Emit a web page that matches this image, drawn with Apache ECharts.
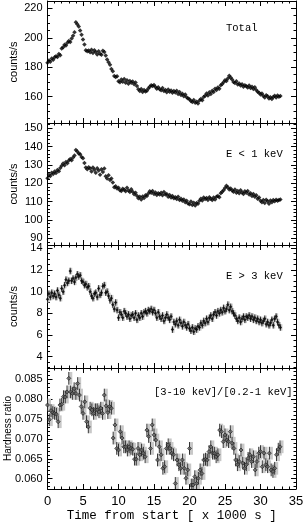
<!DOCTYPE html>
<html><head><meta charset="utf-8">
<script src="https://cdn.jsdelivr.net/npm/echarts@6/dist/echarts.min.js"></script>
<style>html,body{margin:0;padding:0;background:#fff}#c{width:306px;height:522px}</style>
</head><body><div id="c"></div>
<script>
// ---- data (time in units of 1000 s) ----
const binRate = 0.2;   // ks per bin, count-rate light curves
const binHR = 0.25;    // ks per bin, hardness ratio

const totalRate = [
183.0,184.5,183.8,185.9,185.0,186.8,187.5,186.9,189.0,188.2,
192.8,193.6,195.2,194.8,196.6,197.8,197.2,199.6,201.4,203.8,
210.5,209.2,207.6,205.0,202.1,198.8,195.5,191.6,190.8,191.4,
190.2,191.8,189.6,191.5,190.4,188.6,190.8,189.2,188.4,191.2,
190.4,188.0,185.2,183.4,181.6,178.8,177.2,174.0,173.4,173.8,
170.5,169.8,171.6,170.2,172.0,169.4,171.2,168.8,170.6,169.5,
170.3,168.4,169.6,167.2,165.0,163.8,165.2,163.2,164.6,163.5,
164.0,165.6,166.8,167.8,167.2,168.0,166.6,165.4,166.4,165.0,
164.4,165.8,163.8,164.6,163.0,164.8,163.4,164.2,162.6,163.8,
162.8,164.0,161.8,163.2,161.2,162.0,160.2,161.4,159.6,158.8,
158.2,157.0,156.4,157.8,155.8,156.6,155.4,157.4,158.4,157.6,
159.8,160.6,162.2,160.8,163.0,161.8,164.0,163.2,165.4,164.6,
166.2,165.4,167.8,168.6,169.8,171.2,170.6,172.4,174.2,173.0,
171.6,170.0,169.2,170.4,168.2,169.0,167.6,168.4,166.8,167.8,
167.0,166.2,167.6,165.8,166.8,165.2,166.4,164.6,163.4,162.6,
161.4,162.2,160.4,159.4,161.0,160.2,158.8,159.6,158.4,159.8,
160.6,159.4,160.8,160.0,160.4];

const softRate = [
122.8,124.6,123.9,125.8,125.0,126.4,125.6,127.2,126.6,128.4,
129.6,130.8,129.9,131.6,130.9,132.4,133.2,132.6,134.0,135.2,
138.2,137.4,136.2,135.8,134.4,133.6,131.0,128.6,127.6,128.8,
128.0,126.4,128.6,127.4,125.8,128.2,127.0,124.6,127.6,126.2,
128.0,123.8,122.6,124.4,121.8,122.6,120.4,117.8,118.4,117.2,
117.6,116.2,115.8,117.0,116.4,115.6,117.6,116.0,115.2,116.8,
115.4,114.0,114.8,113.2,111.8,112.6,111.2,112.8,112.0,113.4,
113.0,114.4,115.6,114.8,115.8,114.2,115.0,113.6,114.6,113.8,
114.8,113.4,115.2,113.8,114.2,112.6,113.6,112.2,113.0,111.8,
112.4,111.4,112.6,110.8,111.6,110.4,111.2,109.6,110.4,109.0,
108.6,110.0,108.2,109.4,107.8,109.2,108.8,110.4,111.6,110.6,
112.2,111.4,112.0,110.8,112.4,111.6,110.8,112.2,111.2,112.6,
113.0,112.4,114.6,115.4,116.2,117.4,118.6,117.8,116.6,117.2,
116.0,115.4,116.6,114.8,115.8,114.6,116.2,115.0,114.2,115.6,
114.8,115.8,113.8,114.6,113.0,114.2,112.6,113.4,111.6,112.2,
110.4,109.6,110.8,109.2,111.0,110.2,108.8,110.6,109.6,110.8,
110.2,111.0,110.4,110.8,111.2];

const hardRate = [
9.3,9.8,9.5,9.9,9.6,9.8,9.5,10.1,9.7,9.4,
10.3,10.0,10.6,11.1,10.8,11.0,11.9,11.0,11.2,10.9,
11.3,11.6,11.4,11.5,11.0,10.9,10.6,10.7,10.4,10.5,
10.0,9.6,9.4,9.8,9.9,9.5,10.3,9.7,9.9,10.5,
10.6,9.9,10.0,9.6,9.2,9.4,8.8,8.4,9.0,8.3,
7.6,8.1,7.9,7.6,8.2,8.0,7.7,7.9,7.5,7.8,
7.9,7.6,8.0,7.4,7.8,7.6,8.0,7.7,8.1,8.2,
8.0,8.3,8.2,8.4,8.1,8.3,8.0,7.6,8.1,7.7,
7.5,7.8,7.3,7.6,7.9,7.6,7.4,7.7,6.5,7.2,
7.0,7.3,6.9,7.4,7.1,6.8,7.2,6.9,6.7,7.0,
6.6,6.4,6.7,6.3,6.6,6.5,6.8,6.7,7.1,6.9,
7.3,7.1,7.5,7.2,7.6,7.8,7.5,7.9,8.1,7.8,
8.2,8.0,8.3,8.1,8.5,8.2,8.4,8.8,8.3,8.6,
8.2,8.0,7.8,7.5,7.3,7.6,7.2,7.5,7.7,7.4,
7.7,7.6,7.8,7.5,7.7,7.4,7.6,7.3,7.5,7.2,
7.4,7.1,7.3,7.5,7.0,7.2,6.9,7.1,7.4,6.9,
7.5,7.7,7.2,6.9,6.7];
const hardRateErr = 0.3;

const hardness = [
0.0785,0.0748,0.0771,0.0766,0.0764,0.0762,0.0743,0.0785,0.0787,0.0806,
0.0805,0.0818,0.0852,0.0818,0.0814,0.0826,0.0814,0.0839,0.0810,0.0781,
0.0764,0.0793,0.0743,0.0730,0.0777,0.0773,0.0764,0.0773,0.0773,0.0768,
0.0777,0.0764,0.0810,0.0783,0.0766,0.0781,0.0777,0.0702,0.0735,0.0676,
0.0672,0.0718,0.0702,0.0680,0.0680,0.0672,0.0680,0.0676,0.0674,0.0649,
0.0649,0.0676,0.0660,0.0672,0.0664,0.0655,0.0722,0.0706,0.0676,0.0735,
0.0710,0.0697,0.0647,0.0680,0.0660,0.0626,0.0630,0.0676,0.0685,0.0676,
0.0664,0.0660,0.0588,0.0647,0.0635,0.0626,0.0647,0.0626,0.0601,0.0622,
0.0676,0.0584,0.0584,0.0605,0.0588,0.0601,0.0622,0.0613,0.0647,0.0649,
0.0647,0.0668,0.0680,0.0664,0.0664,0.0655,0.0660,0.0722,0.0718,0.0693,
0.0710,0.0697,0.0693,0.0718,0.0689,0.0676,0.0647,0.0635,0.0643,0.0672,
0.0639,0.0626,0.0635,0.0651,0.0660,0.0643,0.0655,0.0622,0.0643,0.0664,
0.0668,0.0630,0.0664,0.0635,0.0630,0.0664,0.0622,0.0618,0.0626,0.0660,
0.0674,0.0680];
const hardnessErr = 0.0016;

const panelLabels = ['Total', 'E < 1 keV', 'E > 3 keV', '[3-10 keV]/[0.2-1 keV]'];
const yTitles = ['counts/s', 'counts/s', 'counts/s', 'Hardness ratio'];
const xTitle = 'Time from start [ x 1000 s ]';
const xRange = [0, 35];
const xMajorStep = 5;
const xTickLabels = [0, 5, 10, 15, 20, 25, 30, 35];
const yRanges = [[142.1, 225], [86.3, 152.9], [2.96, 14.3], [0.0574, 0.0878]];
const yMajorTicks = [
  [160, 180, 200, 220],
  [90, 100, 110, 120, 130, 140, 150],
  [4, 6, 8, 10, 12, 14],
  [0.060, 0.065, 0.070, 0.075, 0.080, 0.085]
];
const yMinorStep = [5, 2, 0.5, 0.001];
const yLabelDecimals = [0, 0, 0, 3];

// ---- build ----
const bins = (arr, w) => arr.map((v, i) => [+(i * w).toFixed(3), v]);
function minorTicks(range, step, majors) {
  const out = [];
  const k0 = Math.ceil(range[0] / step - 1e-9), k1 = Math.floor(range[1] / step + 1e-9);
  for (let k = k0; k <= k1; k++) {
    const v = +(k * step).toFixed(6);
    if (!majors.some(m => Math.abs(m - v) < step * 1e-3)) out.push(v);
  }
  return out;
}

const gridBase = {left: 47.5, right: 10, outerBoundsMode: 'none'};
const grids = [
  Object.assign({top: 1, height: 122}, gridBase),
  Object.assign({top: 123, height: 122}, gridBase),
  Object.assign({top: 245, height: 123}, gridBase),
  Object.assign({top: 368, height: 121}, gridBase),
  Object.assign({top: 488, height: 1}, gridBase)   // carries the bottom tick labels only
];
const yNameGap = [28, 28, 28, 34];
const yNameSize = [11, 11, 11, 10];
const black = '#000';
const xAxes = [], yAxes = [];
for (let g = 0; g < 4; g++) {
  ['bottom', 'top'].forEach(pos => {
    const hasName = (g === 3 && pos === 'bottom');
    xAxes.push({
      gridIndex: g, type: 'value', position: pos, min: xRange[0], max: xRange[1], interval: xMajorStep,
      axisLine: {show: true, onZero: false, lineStyle: {color: black, width: 1}},
      axisTick: {show: true, inside: true, length: 5, lineStyle: {color: black, width: 1}},
      minorTick: {show: true, splitNumber: 5, length: 2.5, lineStyle: {color: black, width: 1}},
      splitLine: {show: false}, minorSplitLine: {show: false},
      axisLabel: {show: false},
      name: hasName ? xTitle : '', nameLocation: 'middle', nameGap: 20, nameMoveOverlap: false,
      nameTextStyle: {fontFamily: 'Liberation Mono', fontSize: 12.5, color: black}
    });
  });
  const majors = yMajorTicks[g];
  const minors = minorTicks(yRanges[g], yMinorStep[g], majors);
  ['left', 'right'].forEach(pos => {
    const isLeft = pos === 'left';
    yAxes.push({
      gridIndex: g, type: 'value', position: pos, min: yRanges[g][0], max: yRanges[g][1],
      axisLine: {show: true, onZero: false, lineStyle: {color: black, width: 1}},
      axisTick: {show: true, inside: true, length: 5, customValues: majors, lineStyle: {color: black, width: 1}},
      splitLine: {show: false},
      axisLabel: {show: isLeft, customValues: majors, showMinLabel: true, showMaxLabel: true, margin: 5,
        fontFamily: 'Liberation Sans', fontSize: 11, color: black,
        formatter: v => Number(v).toFixed(yLabelDecimals[g])},
      name: isLeft ? yTitles[g] : '', nameLocation: 'middle', nameGap: yNameGap[g], nameMoveOverlap: false,
      nameTextStyle: {fontFamily: 'Liberation Sans', fontSize: yNameSize[g], color: black}
    });
    yAxes.push({
      gridIndex: g, type: 'value', position: pos, min: yRanges[g][0], max: yRanges[g][1],
      axisLine: {show: false, onZero: false},
      axisTick: {show: true, inside: true, length: 2.5, customValues: minors, lineStyle: {color: black, width: 1}},
      splitLine: {show: false}, axisLabel: {show: false}
    });
  });
}
// tick-label axis under the bottom panel (x index 8 / y index 16); the extent is padded by a
// negligible 1e-4 ks so that the last label (35) is an interior label and is not auto-hidden
xAxes.push({
  gridIndex: 4, type: 'value', position: 'bottom', min: xRange[0], max: xRange[1] + 1e-4,
  axisLine: {show: false, onZero: false}, axisTick: {show: false}, splitLine: {show: false},
  axisLabel: {show: true, customValues: xTickLabels, showMinLabel: true, showMaxLabel: true, hideOverlap: false,
    margin: 6, fontFamily: 'Liberation Sans', fontSize: 13, color: black,
    formatter: v => String(Math.round(v))}
});
yAxes.push({gridIndex: 4, type: 'value', min: 0, max: 1, axisLine: {show: false}, axisTick: {show: false},
  axisLabel: {show: false}, splitLine: {show: false}});

function errRender(err, grayW, grayDx, grayColor) {
  return function (params, api) {
    const t = api.value(0), v = api.value(1);
    const hi = api.coord([t, v + err]), lo = api.coord([t, v - err]);
    const x = hi[0];
    return {type: 'group', children: [
      {type: 'rect', shape: {x: x + grayDx - grayW / 2, y: hi[1], width: grayW, height: lo[1] - hi[1]},
       style: {fill: grayColor}},
      {type: 'line', shape: {x1: x, y1: hi[1], x2: x, y2: lo[1]}, style: {stroke: '#333', lineWidth: 1}}
    ]};
  };
}

const series = [
  {type: 'scatter', xAxisIndex: 0, yAxisIndex: 0, data: bins(totalRate, binRate), symbol: 'diamond', symbolSize: 4.5,
   itemStyle: {color: black}, silent: true},
  {type: 'scatter', xAxisIndex: 2, yAxisIndex: 4, data: bins(softRate, binRate), symbol: 'diamond', symbolSize: 4.5,
   itemStyle: {color: black}, silent: true},
  {type: 'custom', xAxisIndex: 4, yAxisIndex: 8, data: bins(hardRate, binRate), clip: true,
   renderItem: errRender(hardRateErr, 3, 0.5, '#c4c4c4'), silent: true},
  {type: 'scatter', xAxisIndex: 4, yAxisIndex: 8, data: bins(hardRate, binRate), symbol: 'diamond', symbolSize: 3.5,
   itemStyle: {color: black}, silent: true},
  {type: 'custom', xAxisIndex: 6, yAxisIndex: 12, data: bins(hardness, binHR), clip: true,
   renderItem: errRender(hardnessErr, 3, 2, '#c8c8c8'), silent: true},
  {type: 'scatter', xAxisIndex: 6, yAxisIndex: 12, data: bins(hardness, binHR), symbol: 'diamond', symbolSize: 4,
   itemStyle: {color: '#666', borderColor: '#111', borderWidth: 0.8}, silent: true}
];

const labelPos = [[226, 29], [226, 155], [226, 277], [154, 393]];
const graphic = panelLabels.map((txt, i) => ({
  type: 'text', left: labelPos[i][0], top: labelPos[i][1] - 6,
  style: {text: txt, fontFamily: 'Liberation Mono', fontSize: 10.5, fill: black}
}));

const chart = echarts.init(document.getElementById('c'), null, {renderer: 'canvas'});
chart.setOption({
  animation: false, backgroundColor: '#fff',
  grid: grids, xAxis: xAxes, yAxis: yAxes, series: series, graphic: graphic
});
</script></body></html>
